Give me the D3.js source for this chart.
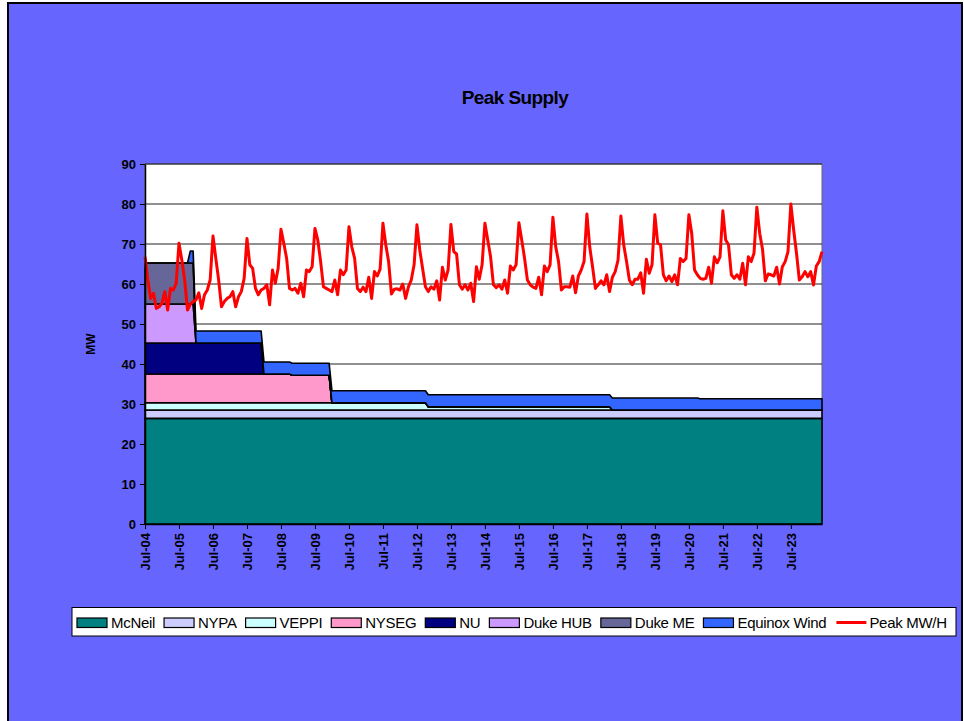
<!DOCTYPE html>
<html>
<head>
<meta charset="utf-8">
<script src="https://cdn.jsdelivr.net/npm/d3@7"></script>
<style>
    body { margin: 0; background: #fff; }
    text { font-family: "Liberation Sans", Arial, sans-serif; }
</style>
</head>
<body>
<div class="container"></div>
<script>
const WIDTH = 964,
    HEIGHT = 721,
    PLOT = { left: 145, top: 164, right: 822, bottom: 524 };

// monthly categories, Jul-04 .. Jun-24
const months = d3.timeMonth.range(new Date(2004, 6, 1), new Date(2024, 6, 1));
const yTicks = [0, 10, 20, 30, 40, 50, 60, 70, 80, 90];

// supply blocks, MW: [first month index, value] steps
const mcneil = [[0, 26.4]];
const nypa = [[0, 2.1]];
const veppi = [[0, 1.8], [100, 0.8], [165, 0]];
const nyseg = [[0, 7.2], [52, 6.9], [66, 0]];
const nu = [[0, 7.75], [42, 0]];
const dukeHub = [[0, 9.75], [18, 0]];
const dukeMe = [[0, 10.25], [18, 0]];
const equinoxWind = [[0, 0], [16, 3.0], [196, 2.8]];

// monthly peak MW/H, one row per Jul..Jun year
const peak = [
    66.8, 61, 56.4, 57.7, 53.9, 54.3, 55.2, 58.1, 53.5, 58.9, 58.5, 60.2,
    70.2, 66, 61, 53.5, 55, 55.6, 56, 57.8, 53.9, 57.3, 58.5, 61,
    72, 66.4, 61, 54.3, 55.6, 56.4, 56.8, 58.1, 54.3, 56.8, 58.1, 61.4,
    71.4, 64.8, 63.9, 58.9, 57.3, 58.5, 58.9, 59.8, 54.8, 63.5, 60.2, 63.9,
    73.7, 70.2, 66.4, 58.9, 58.5, 58.9, 57.7, 60.2, 56.8, 63.5, 63.1, 64.3,
    73.9, 71, 65.6, 59.3, 58.9, 58.5, 58.1, 61, 57.3, 63.5, 62.3, 63.5,
    74.3, 69.3, 66.4, 58.9, 58.1, 59.2, 58.1, 61.7, 56.4, 63.1, 62, 63.7,
    75.2, 69.8, 65.6, 57.5, 58.7, 58.8, 58.5, 60, 56.4, 59.3, 61, 64.8,
    74.8, 68.5, 63.9, 59.3, 58.1, 59.3, 58.7, 60.8, 56, 64.2, 61, 63.5,
    74.9, 68.1, 67.5, 59.8, 58.7, 59.8, 58.5, 60.2, 55.6, 64.3, 61.2, 64.8,
    75.2, 71, 66.8, 59.8, 59.1, 59.8, 58.7, 61, 57.7, 64.5, 63.5, 64.8,
    75.3, 71, 66.4, 61, 59.8, 59.2, 58.9, 61.7, 57.3, 64.5, 63.1, 64.8,
    76.7, 69.3, 65.6, 58.5, 59.3, 59.3, 59.2, 62, 57.8, 62, 63.5, 65.6,
    77.5, 69.3, 64.3, 58.9, 59.8, 60.8, 59.8, 62.3, 58.1, 61.7, 63.1, 66,
    77, 69.8, 65.6, 61, 59.8, 61.2, 61.2, 62.8, 57.7, 66.2, 62.7, 64.8,
    77.3, 70.2, 69.8, 62.3, 60.8, 62, 60.6, 62.3, 59.8, 66.4, 65.6, 66.4,
    77.3, 72.7, 63.5, 62.3, 61.4, 61.2, 61.4, 64.2, 60.2, 66.8, 65.3, 66.8,
    78.3, 71, 69.8, 62.3, 61.4, 62.3, 61.2, 65.2, 59.8, 66.8, 65.6, 67.7,
    79.2, 72.7, 68.7, 60.8, 62.5, 62.3, 62, 64.2, 60, 64.3, 65.6, 68.1,
    80, 73.5, 67.7, 61, 61.8, 63.1, 61.8, 63.1, 59.75, 64.5, 65.6, 68.1
];

const keys = ['McNeil', 'NYPA', 'VEPPI', 'NYSEG', 'NU', 'Duke HUB', 'Duke ME', 'Equinox Wind'];
const steps = [mcneil, nypa, veppi, nyseg, nu, dukeHub, dukeMe, equinoxWind];
const colors = ['#008080', '#CCCCFF', '#CCFFFF', '#FF99CC', '#000080', '#CC99FF', '#666699', '#3366FF'];

var translate = (x, y) => "translate(" + x + "," + y + ")";
var expand = (s) => months.map((_, i) => {
    var v = 0;
    s.forEach(([from, val]) => { if (i >= from) v = val; });
    return v;
});

var table = months.map((m, i) => {
    var row = { month: m, peak: peak[i] };
    keys.forEach((k, j) => row[k] = expand(steps[j])[i]);
    return row;
});

var svg = d3.select('.container').append('svg')
    .attr('width', WIDTH)
    .attr('height', HEIGHT);

// chart area
svg.append('rect')
    .attr('x', 8).attr('y', 3)
    .attr('width', 954).attr('height', HEIGHT + 10)
    .attr('fill', '#6666FF')
    .attr('stroke', '#000')
    .attr('stroke-width', 2);

svg.append('text')
    .attr('x', 515).attr('y', 104)
    .attr('text-anchor', 'middle')
    .attr('font-size', 19).attr('font-weight', 'bold')
    .attr('letter-spacing', -0.6)
    .text('Peak Supply');

var x = d3.scalePoint()
    .domain(months)
    .range([PLOT.left, PLOT.right]);

var y = d3.scaleLinear()
    .domain([0, 90])
    .range([PLOT.bottom, PLOT.top]);

svg.append('rect')
    .attr('x', PLOT.left).attr('y', PLOT.top)
    .attr('width', PLOT.right - PLOT.left).attr('height', PLOT.bottom - PLOT.top)
    .attr('fill', '#fff')
    .attr('stroke', '#666');

svg.append('g')
    .selectAll('line')
    .data(yTicks.slice(1))
    .join('line')
    .attr('x1', PLOT.left).attr('x2', PLOT.right)
    .attr('y1', d => y(d)).attr('y2', d => y(d))
    .attr('stroke', '#222')
    .attr('stroke-width', 1);

var stacked = d3.stack().keys(keys)(table);

var area = d3.area()
    .x(d => x(d.data.month))
    .y0(d => y(d[0]))
    .y1(d => y(d[1]));

svg.append('g')
    .selectAll('path')
    .data(stacked)
    .join('path')
    .attr('d', area)
    .attr('fill', (d, i) => colors[i])
    .attr('stroke', '#000')
    .attr('stroke-width', 1.6)
    .attr('stroke-linejoin', 'round');

var line = d3.line()
    .x(d => x(d.month))
    .y(d => y(d.peak));

svg.append('path')
    .attr('d', line(table))
    .attr('fill', 'none')
    .attr('stroke', '#FF0000')
    .attr('stroke-width', 3)
    .attr('stroke-linejoin', 'round');

// axes
var fmt = d3.timeFormat('%b-%y');
var xAxis = d3.axisBottom(x)
    .tickValues(months.filter(m => m.getMonth() == 6))
    .tickFormat(fmt)
    .tickSize(5)
    .tickSizeOuter(0);

var gx = svg.append('g')
    .attr('transform', translate(0, PLOT.bottom))
    .call(xAxis);
gx.select('.domain').attr('stroke', '#000').attr('stroke-width', 1.5);
gx.selectAll('.tick line').attr('stroke', '#000');
gx.selectAll('.tick text')
    .attr('font-family', '"Liberation Sans", Arial, sans-serif')
    .attr('font-size', 13).attr('font-weight', 'bold')
    .attr('fill', '#000')
    .attr('text-anchor', 'end')
    .attr('transform', 'rotate(-90)')
    .attr('x', -9).attr('y', 0).attr('dy', '0.35em');

var yAxis = d3.axisLeft(y)
    .tickValues(yTicks)
    .tickSize(5)
    .tickSizeOuter(0)
    .tickPadding(4);

var gy = svg.append('g')
    .attr('transform', translate(PLOT.left, 0))
    .call(yAxis);
gy.select('.domain').attr('stroke', '#000').attr('stroke-width', 1.5);
gy.selectAll('.tick line').attr('stroke', '#000');
gy.selectAll('.tick text')
    .attr('font-family', '"Liberation Sans", Arial, sans-serif')
    .attr('font-size', 13).attr('font-weight', 'bold')
    .attr('fill', '#000');

svg.append('text')
    .attr('transform', translate(95, 344) + ' rotate(-90)')
    .attr('text-anchor', 'middle')
    .attr('font-size', 12).attr('font-weight', 'bold')
    .text('MW');

// legend
var legend = svg.append('g');
legend.append('rect')
    .attr('x', 72).attr('y', 607.5)
    .attr('width', 884).attr('height', 28.5)
    .attr('fill', '#fff')
    .attr('stroke', '#000');

var items = keys.map((k, i) => ({ name: k, color: colors[i] })).concat([{ name: 'Peak MW/H', color: '#FF0000', line: true }]);
var lx = 77;
items.forEach(it => {
    if (it.line) {
        legend.append('line')
            .attr('x1', lx + 1).attr('x2', lx + 31)
            .attr('y1', 622.5).attr('y2', 622.5)
            .attr('stroke', it.color).attr('stroke-width', 3);
    } else {
        legend.append('rect')
            .attr('x', lx).attr('y', 618)
            .attr('width', 30).attr('height', 9.5)
            .attr('fill', it.color)
            .attr('stroke', '#000').attr('stroke-width', 1.2);
    }
    var t = legend.append('text')
        .attr('x', lx + 34).attr('y', 628)
        .attr('font-size', 15)
        .attr('letter-spacing', -0.3)
        .text(it.name);
    lx += 34 + t.node().getComputedTextLength() + 9;
});
</script>
</body>
</html>
